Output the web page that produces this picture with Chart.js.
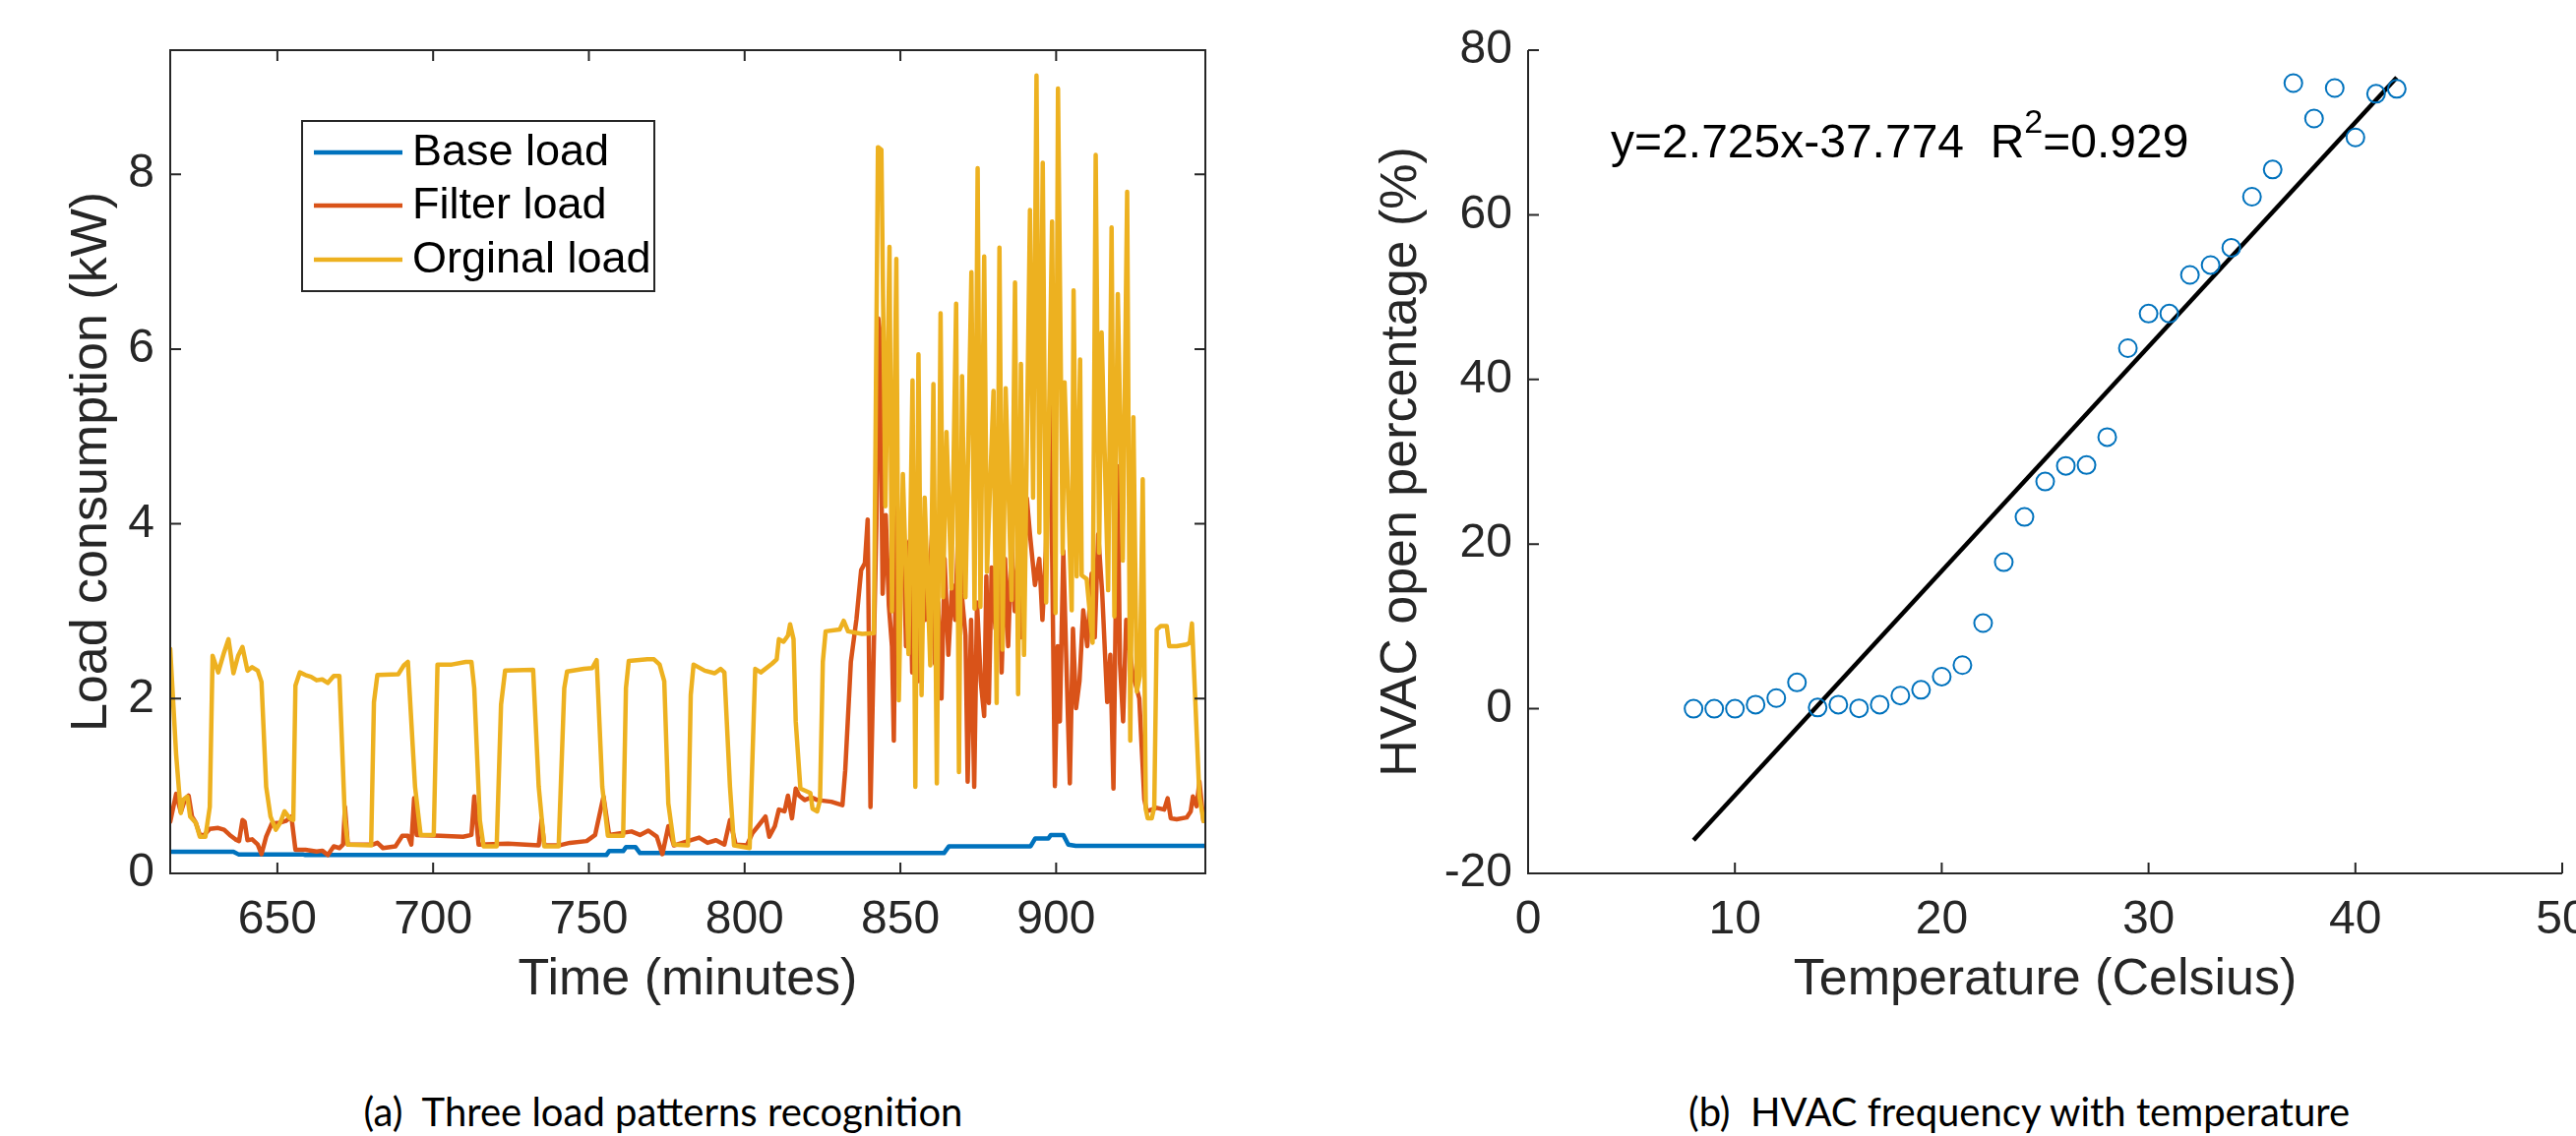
<!DOCTYPE html>
<html>
<head>
<meta charset="utf-8">
<script src="https://cdn.jsdelivr.net/npm/chart.js@4.4.1/dist/chart.umd.min.js"></script>
<style>
  html, body { margin: 0; padding: 0; background: #fff; }
  #page { position: relative; width: 2618px; height: 1155px; overflow: hidden; background: #fff; }
  canvas { position: absolute; top: 0; }
  #loadChart { left: 0; }
  #hvacChart { left: 1300px; }
  .caption { position: absolute; top: 1106px; font-family: Lato, "Open Sans", sans-serif; font-size: 40px;
             color: #000; white-space: pre; transform: translateX(-50%); }
</style>
</head>
<body>
<div id="page">
  <canvas id="loadChart" width="1300" height="1080"></canvas>
  <canvas id="hvacChart" width="1318" height="1080"></canvas>
  <div class="caption" style="left:674px">(a)  Three load patterns recognition</div>
  <div class="caption" style="left:2052px">(b)  HVAC frequency with temperature</div>
</div>
<script>
(function(){

// ---- (a) load patterns ----
const timeTicks = [650, 700, 750, 800, 850, 900];
const loadTicks = [0, 2, 4, 6, 8];

const baseTime = [615.6, 635.9, 637.5, 658.1, 659, 755.6, 756.5, 761, 761.9, 765, 766.4, 864, 865.6,
    891.8, 893.3, 897.5, 898.3, 902.3, 903.9, 906.3, 947.9];
const baseKW = [0.248, 0.248, 0.218, 0.218, 0.21, 0.21, 0.255, 0.255, 0.30, 0.30, 0.233, 0.233, 0.31,
    0.31, 0.40, 0.40, 0.44, 0.44, 0.33, 0.315, 0.315];

const filterTime = [615.6, 617.5, 619, 620.2, 621.5, 622.6, 623.8, 625.1, 626.5, 628.3, 631, 632.9, 634.7,
    636.5, 637.7, 638.8, 639.5, 640.4, 641.9, 643.7, 644.9, 646.4, 648.2, 650.9, 652.7, 654.5, 655.8,
    659, 662.6, 664.4, 666.2, 668.1, 669.9, 671.1, 671.7, 672.6, 680.7, 682.1, 683.9, 687.9, 690.1,
    691.9, 693, 693.9, 694.7, 702.3, 709.6, 712.3, 713.2, 714.6, 724, 733.9, 734.8, 735.7, 740.3,
    743.9, 749.3, 752, 754.7, 756.5, 760.1, 763.7, 766.4, 769.1, 771.8, 773.6, 775.5, 777.3, 781.8,
    785.4, 788.1, 790.8, 793.5, 795.3, 797.1, 800.7, 802.5, 804.3, 806.7, 807.9, 809.7, 811, 812.8,
    813.9, 815.2, 816.4, 817.5, 819.3, 821.5, 823.3, 827.8, 831.4, 832.3, 834.1, 835.9, 837.4, 838.6,
    839.5, 840.4, 842.3, 842.9, 843.4, 844.3, 845.3, 846.3, 847.3, 847.9, 848.8, 849.7, 850.8, 851.8,
    852.9, 853.8, 854.8, 855.9, 857, 858, 859.1, 860.2, 861.1, 862.1, 863.2, 864.2, 865.4, 866.6,
    867.6, 868.7, 869.7, 870.9, 871.6, 872.7, 873.7, 874.6, 875.8, 876.9, 877.6, 878.4, 879.3, 880.5,
    881.5, 882.5, 883.6, 884.6, 885.7, 886.7, 887.8, 888.8, 889.8, 890.6, 891.6, 893.2, 894.6, 895.6,
    896.7, 898.1, 899.6, 900.5, 901.2, 902.3, 903.3, 904.4, 905.4, 906.4, 907.5, 908.7, 910, 911.4,
    912.4, 913.5, 914.8, 916.4, 917.4, 918.4, 919.7, 920.5, 921.5, 922.5, 923.5, 924.5, 925.9, 926.7,
    928.3, 929.1, 930.7, 932.3, 934.7, 935.8, 936.8, 938.7, 941.9, 943.2, 943.9, 945.1, 946, 947.3, 947.9];
const filterKW = [0.59, 0.91, 0.70, 0.83, 0.89, 0.65, 0.58, 0.44, 0.44, 0.51, 0.52, 0.50, 0.44,
    0.39, 0.37, 0.61, 0.59, 0.38, 0.39, 0.33, 0.22, 0.42, 0.57, 0.58, 0.60, 0.65, 0.27,
    0.27, 0.25, 0.26, 0.21, 0.31, 0.29, 0.33, 0.76, 0.33, 0.33, 0.35, 0.29, 0.31, 0.43,
    0.43, 0.33, 0.86, 0.44, 0.43, 0.42, 0.44, 0.88, 0.33, 0.34, 0.32, 0.61, 0.32, 0.32,
    0.35, 0.37, 0.44, 0.88, 0.44, 0.46, 0.48, 0.44, 0.49, 0.42, 0.22, 0.54, 0.32, 0.37,
    0.41, 0.35, 0.38, 0.33, 0.61, 0.33, 0.32, 0.46, 0.54, 0.65, 0.42, 0.54, 0.73, 0.71,
    0.89, 0.63, 0.97, 0.89, 0.84, 0.87, 0.84, 0.82, 0.78, 1.18, 2.42, 2.91, 3.47, 3.55,
    4.05, 0.76, 4.0, 6.35, 6.2, 3.2, 4.1, 3.07, 2.6, 1.52, 4.4, 3.3, 4.2, 2.6,
    3.8, 2.3, 3.5, 2.2, 4.0, 2.9, 3.3, 3.9, 2.4, 3.1, 2.0, 3.6, 2.5, 3.3,
    2.9, 4.1, 3.2, 2.72, 1.05, 2.9, 0.99, 3.1, 2.2, 1.8, 3.4, 1.95, 3.5, 2.8,
    3.9, 2.3, 3.6, 2.6, 3.8, 3.0, 3.6, 2.7, 3.5, 4.29, 3.88, 3.3, 3.6, 2.9,
    3.7, 5.49, 1.0, 2.6, 1.74, 3.69, 2.4, 1.03, 2.8, 1.89, 2.2, 3.01, 2.6, 3.43,
    2.7, 3.88, 3.2, 1.96, 2.5, 0.97, 4.66, 2.4, 1.74, 2.9, 2.6, 2.3, 2.11, 2.0,
    0.85, 0.71, 0.73, 0.75, 0.73, 0.86, 0.63, 0.62, 0.64, 0.71, 0.88, 0.77, 1.05, 0.6, 0.65];

const origTime = [615.6, 617.5, 619, 619.7, 621.1, 622, 623.8, 625.1, 626.9, 628.3, 629.2, 631, 632.9,
    634.3, 635.9, 637.4, 638.8, 640.4, 641.9, 643.7, 644.9, 646.4, 647.8, 649.5, 650.9, 652.3, 654,
    655.1, 655.8, 657.2, 659, 660.8, 662.6, 664.4, 666.2, 668.1, 669.9, 671.7, 672.6, 680.1, 681,
    682.1, 688.8, 690.6, 691.9, 694.2, 696, 700.2, 701.4, 706, 710.5, 712.3, 713.2, 715, 716.2,
    720.4, 721.8, 723.1, 732.1, 733.9, 735.7, 740.3, 742.1, 743, 748.4, 751.1, 752.5, 754.3, 756.1,
    761, 761.9, 762.8, 768.8, 770.9, 772.7, 774.2, 775.5, 777.3, 781.8, 782.7, 783.6, 787.2, 790.4,
    792.3, 793.5, 795.3, 796.6, 801.6, 803.4, 805.2, 808.8, 810.3, 811, 812.5, 813.9, 814.6, 815.7,
    816.4, 817.9, 821.1, 821.8, 823.3, 824.2, 825.1, 826, 830.5, 831.8, 833.2, 837.7, 841.5,
    842.8, 843.9, 845.2, 846.5, 847.3, 848.7, 849.5, 850.8, 852.6, 853.9, 854.8, 855.8, 856.8, 857.8,
    859.6, 860.6, 861.7, 862.9, 863.7, 864.8, 866.4, 867.9, 868.8, 869.8, 870.9, 872.8, 873.8, 874.8,
    875.7, 876.9, 877.8, 879.9, 880.9, 881.8, 882.8, 883.8, 885.7, 886.8, 887.8, 888.7, 889.7, 891.6,
    892.6, 893.7, 894.6, 895.7, 896.8, 898.7, 899.8, 900.6, 902.1, 902.7, 905, 905.6, 906.6, 907.7,
    908.2, 909.8, 911.7, 912.7, 913.8, 914.6, 916.7, 917.8, 918.7, 919.8, 921.4, 922.8, 923.8, 924.8,
    925.9, 926.9, 927.8, 928.8, 929.4, 930.7, 931.5, 932.3, 933.6, 935.5, 936.3, 938.7, 941.9, 942.9,
    943.6, 944.7, 946, 947.3, 947.9];
const origKW = [2.57, 1.36, 0.69, 0.84, 0.88, 0.65, 0.58, 0.42, 0.42, 0.76, 2.49, 2.30, 2.53,
    2.68, 2.29, 2.49, 2.59, 2.32, 2.36, 2.32, 2.19, 0.99, 0.65, 0.50, 0.58, 0.71, 0.63,
    0.61, 2.15, 2.30, 2.27, 2.25, 2.21, 2.22, 2.18, 2.26, 2.26, 0.61, 0.33, 0.32, 1.96,
    2.27, 2.28, 2.38, 2.42, 0.99, 0.44, 0.44, 2.39, 2.39, 2.42, 2.42, 2.12, 0.61, 0.31,
    0.31, 1.93, 2.32, 2.33, 0.99, 0.31, 0.31, 2.12, 2.31, 2.34, 2.35, 2.44, 0.99, 0.43,
    0.43, 2.12, 2.43, 2.45, 2.45, 2.39, 2.20, 0.80, 0.33, 0.32, 2.04, 2.39, 2.32, 2.29,
    2.34, 2.30, 0.99, 0.32, 0.29, 2.34, 2.30, 2.40, 2.45, 2.68, 2.65, 2.72, 2.85, 2.68,
    1.74, 0.97, 0.92, 0.74, 0.71, 0.84, 2.42, 2.77, 2.79, 2.89, 2.77, 2.74, 2.75,
    8.31, 8.28, 4.2, 7.17, 3.0, 7.03, 1.98, 4.57, 2.51, 5.64, 0.99, 5.94, 2.04, 4.3,
    2.38, 5.6, 1.03, 6.41, 3.16, 5.05, 3.26, 6.52, 1.16, 5.69, 3.16, 6.88, 3.03, 8.07,
    3.05, 7.06, 3.45, 5.52, 1.95, 7.16, 2.56, 5.55, 3.13, 6.76, 2.05, 5.83, 2.5, 7.59,
    4.3, 9.13, 3.9, 8.13, 3.1, 7.46, 2.98, 8.98, 3.66, 5.62, 3.01, 6.67, 3.4, 5.88,
    3.41, 3.37, 2.64, 8.22, 3.67, 6.19, 3.24, 7.39, 2.94, 6.63, 3.58, 7.8, 1.52, 5.22,
    2.08, 2.26, 4.51, 0.73, 0.63, 0.63, 0.76, 2.79, 2.83, 2.83, 2.6, 2.6, 2.62, 2.64,
    2.86, 1.96, 0.88, 0.6, 0.62];

// ---- (b) HVAC vs temperature ----
const tempTicks = [0, 10, 20, 30, 40, 50];
const pctTicks = [-20, 0, 20, 40, 60, 80];
const tempC = [8, 9, 10, 11, 12, 13, 14, 15, 16, 17, 18, 19, 20, 21, 22, 23, 24, 25,
    26, 27, 28, 29, 30, 31, 32, 33, 34, 35, 36, 37, 38, 39, 40, 41, 42];
const hvacPct = [0, 0, 0, 0.5, 1.3, 3.2, 0.15, 0.5, 0.05, 0.5, 1.6, 2.3, 3.9, 5.3, 10.4, 17.8, 23.3, 27.6,
    29.5, 29.6, 33.0, 43.8, 48.0, 48.0, 52.7, 53.9, 56.0, 62.2, 65.5, 76.0, 71.7, 75.4, 69.4, 74.7, 75.3];
const fitTemp = [8, 42];
const fitPct = [-15.97, 76.68];

const AXIS = '#262626';
const FONT = '"Liberation Sans", Arial, Helvetica, sans-serif';
const TICK_FONT = { size: 48, family: FONT };
const TITLE_FONT = { size: 52, family: FONT };

function toPoints(xs, ys) {
    return xs.map((x, i) => ({ x: x, y: ys[i] }));
}

// matlab looking axes: inward ticks, box only for the left one
function axesBox(box) {
    return {
        id: 'axesBox',
        afterDatasetsDraw(chart) {
            const { ctx, chartArea: a, scales: { x, y } } = chart;
            const tl = 11;
            ctx.save();
            ctx.strokeStyle = AXIS;
            ctx.lineWidth = 2;
            ctx.beginPath();
            ctx.moveTo(a.left, a.top);
            ctx.lineTo(a.left, a.bottom);
            ctx.lineTo(a.right, a.bottom);
            if (box) {
                ctx.lineTo(a.right, a.top);
                ctx.closePath();
            }
            x.ticks.forEach(t => {
                const px = x.getPixelForValue(t.value);
                ctx.moveTo(px, a.bottom); ctx.lineTo(px, a.bottom - tl);
                if (box) { ctx.moveTo(px, a.top); ctx.lineTo(px, a.top + tl); }
            });
            y.ticks.forEach(t => {
                const py = y.getPixelForValue(t.value);
                ctx.moveTo(a.left, py); ctx.lineTo(a.left + tl, py);
                if (box) { ctx.moveTo(a.right, py); ctx.lineTo(a.right - tl, py); }
            });
            ctx.stroke();
            ctx.restore();
        }
    };
}

function xAxis(min, max, tickValues, title) {
    return {
        type: 'linear', position: 'bottom', min: min, max: max,
        grid: { display: false, drawTicks: false },
        border: { display: false },
        afterBuildTicks: s => { s.ticks = tickValues.map(v => ({ value: v })); },
        afterFit: s => { s.height = 192; s.paddingLeft = 0; s.paddingRight = 0; },
        ticks: { font: TICK_FONT, color: AXIS, padding: 19, maxRotation: 0, autoSkip: false },
        title: { display: true, text: title, font: TITLE_FONT, color: AXIS, padding: { top: 0, bottom: 52 } }
    };
}

function yAxis(min, max, tickValues, title, width, titlePad) {
    return {
        type: 'linear', position: 'left', min: min, max: max,
        grid: { display: false, drawTicks: false },
        border: { display: false },
        afterBuildTicks: s => { s.ticks = tickValues.map(v => ({ value: v })); },
        afterFit: s => { s.width = width; s.paddingTop = 0; s.paddingBottom = 0; },
        ticks: { font: TICK_FONT, color: AXIS, padding: 16, autoSkip: false },
        title: { display: true, text: title, font: TITLE_FONT, color: AXIS, padding: { top: titlePad, bottom: 0 } }
    };
}

// legend box drawn inside the plot like matlab does
const legendBox = {
    id: 'legendBox',
    afterDraw(chart) {
        const ctx = chart.ctx;
        const rows = [155, 209, 264];
        ctx.save();
        ctx.fillStyle = '#fff';
        ctx.fillRect(307, 123, 358, 173);
        ctx.strokeStyle = AXIS;
        ctx.lineWidth = 2;
        ctx.strokeRect(307, 123, 358, 173);
        ctx.font = '45px ' + FONT;
        ctx.textBaseline = 'middle';
        chart.data.datasets.forEach((ds, i) => {
            ctx.strokeStyle = ds.borderColor;
            ctx.lineWidth = 4.5;
            ctx.beginPath();
            ctx.moveTo(319, rows[i]);
            ctx.lineTo(409, rows[i]);
            ctx.stroke();
            ctx.fillStyle = '#000';
            ctx.fillText(ds.label, 419, rows[i] + 1);
        });
        ctx.restore();
    }
};

// regression text, R^2 with a raised 2
const fitLabel = {
    id: 'fitLabel',
    afterDatasetsDraw(chart) {
        const { ctx, scales: { x, y } } = chart;
        let px = x.getPixelForValue(4.0);
        const py = y.getPixelForValue(68.5);
        ctx.save();
        ctx.fillStyle = '#000';
        ctx.textBaseline = 'middle';
        ctx.font = '48px ' + FONT;
        const first = 'y=2.725x-37.774  R';
        ctx.fillText(first, px, py);
        px += ctx.measureText(first).width;
        ctx.font = '34px ' + FONT;
        ctx.fillText('2', px, py - 22);
        px += ctx.measureText('2').width;
        ctx.font = '48px ' + FONT;
        ctx.fillText('=0.929', px, py);
        ctx.restore();
    }
};

function lineSet(label, xs, ys, color, order) {
    return {
        label: label, data: toPoints(xs, ys), borderColor: color, backgroundColor: color,
        borderWidth: 4.5, pointRadius: 0, tension: 0, order: order,
        borderJoinStyle: 'round', borderCapStyle: 'round'
    };
}

Chart.defaults.font.family = FONT;

new Chart(document.getElementById('loadChart'), {
    type: 'line',
    data: {
        datasets: [
            lineSet('Base load', baseTime, baseKW, '#0072BD', 2),
            lineSet('Filter load', filterTime, filterKW, '#D95319', 1),
            lineSet('Orginal load', origTime, origKW, '#EDB120', 0)
        ]
    },
    options: {
        responsive: false, animation: false, devicePixelRatio: 1,
        layout: { padding: { left: 0, top: 51, right: 75, bottom: 0 } },
        plugins: { legend: { display: false }, tooltip: { enabled: false } },
        scales: {
            x: xAxis(615.6, 947.9, timeTicks, 'Time (minutes)'),
            y: yAxis(0, 9.42, loadTicks, 'Load consumption (kW)', 173, 62)
        }
    },
    plugins: [axesBox(true), legendBox]
});

new Chart(document.getElementById('hvacChart'), {
    type: 'scatter',
    data: {
        datasets: [
            {
                label: 'HVAC', data: toPoints(tempC, hvacPct), pointStyle: 'circle',
                pointRadius: 9, borderWidth: 2, borderColor: '#0072BD', backgroundColor: 'rgba(0,0,0,0)'
            },
            {
                label: 'fit', data: toPoints(fitTemp, fitPct), showLine: true, pointRadius: 0,
                borderColor: '#000', borderWidth: 4.5, backgroundColor: '#000'
            }
        ]
    },
    options: {
        responsive: false, animation: false, devicePixelRatio: 1,
        layout: { padding: { left: 0, top: 51, right: 14, bottom: 0 } },
        plugins: { legend: { display: false }, tooltip: { enabled: false } },
        scales: {
            x: xAxis(0, 50, tempTicks, 'Temperature (Celsius)'),
            y: yAxis(-20, 80, pctTicks, 'HVAC open percentage (%)', 253, 93)
        }
    },
    plugins: [axesBox(false), fitLabel]
});

})();
</script>
</body>
</html>
